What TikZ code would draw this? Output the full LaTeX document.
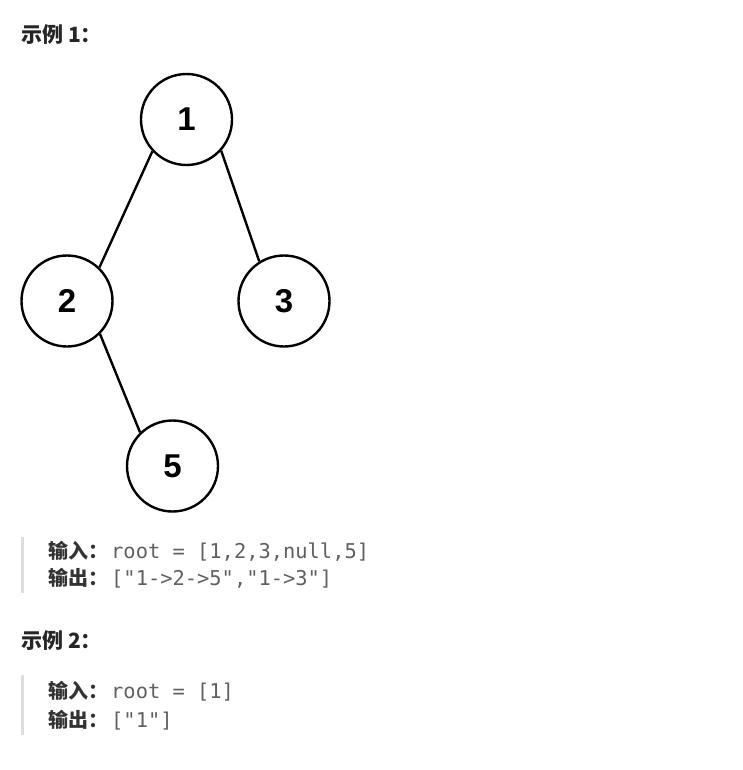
\documentclass[tikz,border=0pt]{standalone}
\usepackage{fontspec}
\setmainfont{Liberation Sans}
\setmonofont{DejaVu Sans Mono}
\newfontfamily\cjk{Noto Sans CJK SC}
\usetikzlibrary{positioning}
\definecolor{headgray}{RGB}{38,38,38}
\definecolor{labelgray}{RGB}{51,51,51}
\definecolor{codegray}{RGB}{96,96,96}
\definecolor{bargray}{RGB}{221,221,221}
\newcommand{\iolabel}[1]{{\cjk\fontsize{20}{20}\selectfont\bfseries\color{labelgray}#1}\hspace{3pt}}
\newcommand{\iocode}[1]{{\ttfamily\fontsize{20.4}{20}\selectfont\color{codegray}#1}}

\begin{document}
\begin{tikzpicture}[x=1pt, y=-1pt, line width=2.4pt]
        \tikzstyle{treenode}=[circle, draw, minimum size=91pt, inner sep=0pt, font=\fontsize{33}{33}\selectfont\bfseries]
        \tikzstyle{heading}=[anchor=base west, inner sep=0pt, text=headgray, font=\cjk\fontsize{21}{21}\selectfont\bfseries]
        \tikzstyle{ioline}=[anchor=base west, inner sep=0pt]
        \tikzstyle{quotebar}=[draw=bargray, line width=3pt]
        \useasboundingbox (0,0) rectangle (743,770);
        % example 1
        \node[heading]          (ex1) at (20,43)       {示例 1：};
        \node[treenode]         (n1)  at (186.5,119.5) {1};
        \node[treenode]         (n2)  at (67,301)      {2};
        \node[treenode]         (n3)  at (284,301)     {3};
        \node[treenode]         (n5)  at (172.5,466)   {5};
        \path (n1.-137) edge (n2.46);
        \path (n1.-42)  edge (n3.122);
        \path (n2.-45)  edge (n5.134);
        \coordinate (bar1top) at (22,537);
        \coordinate (bar1bot) at (22,593);
        \draw[quotebar] (bar1top) -- (bar1bot);
        \node[ioline] (in1)  at (47,558) {\iolabel{输入：}\iocode{root = [1,2,3,null,5]}};
        \node[ioline] (out1) at (47,585) {\iolabel{输出：}\iocode{["1->2->5","1->3"]}};
        % example 2
        \node[heading]          (ex2) at (20,648)      {示例 2：};
        \coordinate (bar2top) at (22,675);
        \coordinate (bar2bot) at (22,735);
        \draw[quotebar] (bar2top) -- (bar2bot);
        \node[ioline] (in2)  at (47,698) {\iolabel{输入：}\iocode{root = [1]}};
        \node[ioline] (out2) at (47,727) {\iolabel{输出：}\iocode{["1"]}};
\end{tikzpicture}
\end{document}
